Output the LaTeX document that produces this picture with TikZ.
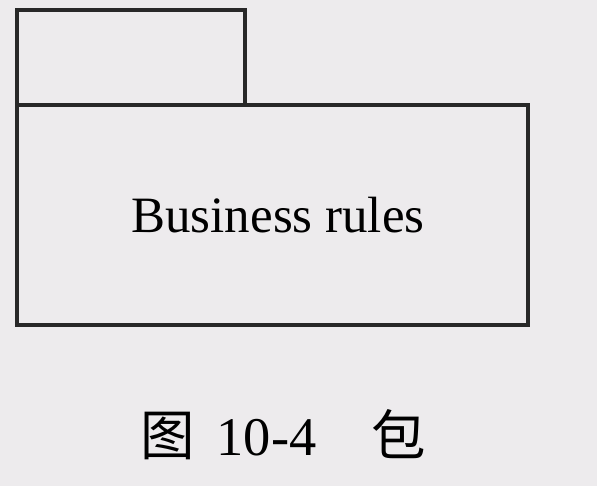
\documentclass[tikz,border=0pt]{standalone}
\usepackage{fontspec}
\setmainfont{Liberation Serif}
\newfontfamily\cjk{Noto Sans CJK SC}
\usetikzlibrary{positioning}
\definecolor{paper}{RGB}{237,235,237}
\definecolor{ink}{RGB}{40,40,40}
\begin{document}
\begin{tikzpicture}
[x=0.02cm,y=-0.02cm,%
  pkg/.style={draw=ink,line width=1.9pt,inner sep=0pt,outer sep=0pt},%
  caption/.style={inner sep=0pt,text=black}]
\fill[paper] (0,0) rectangle (597,486);
\useasboundingbox (0,0) rectangle (597,486);
\node[pkg,minimum width=10.22cm,minimum height=4.4cm] (body) at (272.5,215) {};
\node[pkg,anchor=south west,minimum width=4.56cm,minimum height=1.9cm]
  (tab) at (body.north west) {};
\node[caption,font=\fontsize{29}{34}\selectfont] (rules) at (278,215) {Business rules};
\node[caption,anchor=base,font=\fontsize{31}{36}\selectfont]
  (cap) at (283,455) {{\cjk 图}\hspace{0.4em}10-4\hspace{1em}{\cjk 包}};
\end{tikzpicture}
\end{document}
